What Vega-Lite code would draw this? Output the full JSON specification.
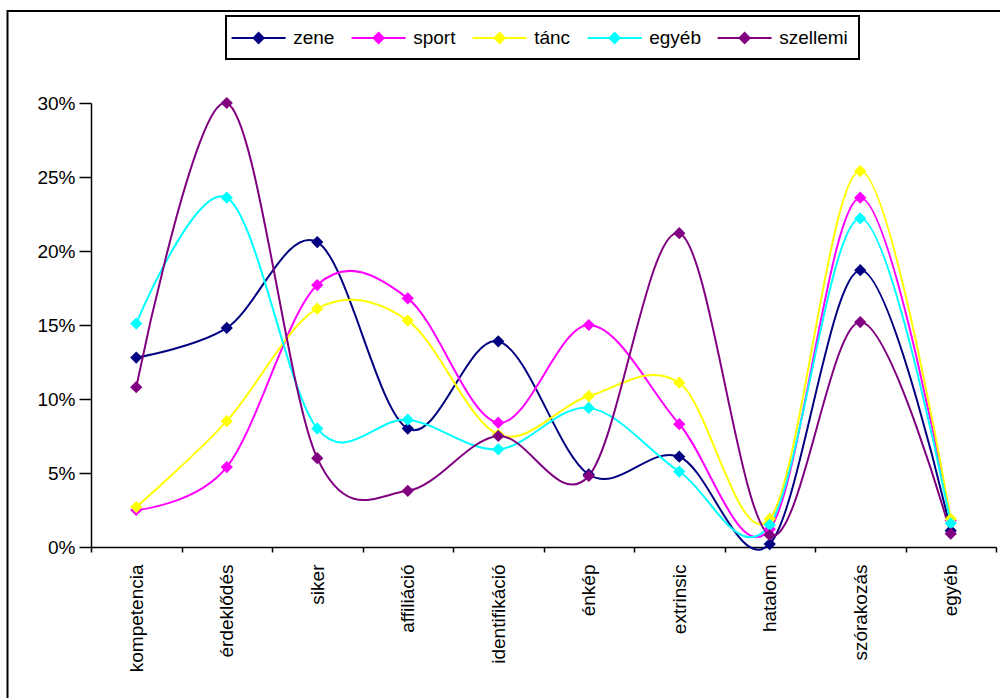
{
  "$schema": "https://vega.github.io/schema/vega-lite/v6.json",
  "autosize": "none",
  "width": 905,
  "height": 444,
  "padding": {"left": 91, "top": 103, "right": 4, "bottom": 151},
  "background": "white",
  "config": {
    "view": {"stroke": null},
    "font": "Liberation Sans",
    "axis": {
      "domainColor": "black",
      "domainWidth": 1.5,
      "tickColor": "black",
      "tickWidth": 1.5,
      "labelColor": "black",
      "labelFont": "Liberation Sans",
      "labelFontSize": 19,
      "grid": false,
      "title": null
    }
  },
  "datasets": {
    "ertekek": [
      {"kategoria": "kompetencia", "csoport": "zene", "arany": 0.128},
      {"kategoria": "érdeklődés", "csoport": "zene", "arany": 0.148},
      {"kategoria": "siker", "csoport": "zene", "arany": 0.206},
      {"kategoria": "affiliáció", "csoport": "zene", "arany": 0.080},
      {"kategoria": "identifikáció", "csoport": "zene", "arany": 0.139},
      {"kategoria": "énkép", "csoport": "zene", "arany": 0.049},
      {"kategoria": "extrinsic", "csoport": "zene", "arany": 0.061},
      {"kategoria": "hatalom", "csoport": "zene", "arany": 0.002},
      {"kategoria": "szórakozás", "csoport": "zene", "arany": 0.187},
      {"kategoria": "egyéb", "csoport": "zene", "arany": 0.011},

      {"kategoria": "kompetencia", "csoport": "sport", "arany": 0.025},
      {"kategoria": "érdeklődés", "csoport": "sport", "arany": 0.054},
      {"kategoria": "siker", "csoport": "sport", "arany": 0.177},
      {"kategoria": "affiliáció", "csoport": "sport", "arany": 0.168},
      {"kategoria": "identifikáció", "csoport": "sport", "arany": 0.084},
      {"kategoria": "énkép", "csoport": "sport", "arany": 0.150},
      {"kategoria": "extrinsic", "csoport": "sport", "arany": 0.083},
      {"kategoria": "hatalom", "csoport": "sport", "arany": 0.012},
      {"kategoria": "szórakozás", "csoport": "sport", "arany": 0.236},
      {"kategoria": "egyéb", "csoport": "sport", "arany": 0.018},

      {"kategoria": "kompetencia", "csoport": "tánc", "arany": 0.027},
      {"kategoria": "érdeklődés", "csoport": "tánc", "arany": 0.085},
      {"kategoria": "siker", "csoport": "tánc", "arany": 0.161},
      {"kategoria": "affiliáció", "csoport": "tánc", "arany": 0.153},
      {"kategoria": "identifikáció", "csoport": "tánc", "arany": 0.076},
      {"kategoria": "énkép", "csoport": "tánc", "arany": 0.102},
      {"kategoria": "extrinsic", "csoport": "tánc", "arany": 0.111},
      {"kategoria": "hatalom", "csoport": "tánc", "arany": 0.019},
      {"kategoria": "szórakozás", "csoport": "tánc", "arany": 0.254},
      {"kategoria": "egyéb", "csoport": "tánc", "arany": 0.019},

      {"kategoria": "kompetencia", "csoport": "egyéb", "arany": 0.151},
      {"kategoria": "érdeklődés", "csoport": "egyéb", "arany": 0.236},
      {"kategoria": "siker", "csoport": "egyéb", "arany": 0.080},
      {"kategoria": "affiliáció", "csoport": "egyéb", "arany": 0.086},
      {"kategoria": "identifikáció", "csoport": "egyéb", "arany": 0.066},
      {"kategoria": "énkép", "csoport": "egyéb", "arany": 0.094},
      {"kategoria": "extrinsic", "csoport": "egyéb", "arany": 0.051},
      {"kategoria": "hatalom", "csoport": "egyéb", "arany": 0.015},
      {"kategoria": "szórakozás", "csoport": "egyéb", "arany": 0.222},
      {"kategoria": "egyéb", "csoport": "egyéb", "arany": 0.016},

      {"kategoria": "kompetencia", "csoport": "szellemi", "arany": 0.108},
      {"kategoria": "érdeklődés", "csoport": "szellemi", "arany": 0.300},
      {"kategoria": "siker", "csoport": "szellemi", "arany": 0.060},
      {"kategoria": "affiliáció", "csoport": "szellemi", "arany": 0.038},
      {"kategoria": "identifikáció", "csoport": "szellemi", "arany": 0.075},
      {"kategoria": "énkép", "csoport": "szellemi", "arany": 0.048},
      {"kategoria": "extrinsic", "csoport": "szellemi", "arany": 0.212},
      {"kategoria": "hatalom", "csoport": "szellemi", "arany": 0.008},
      {"kategoria": "szórakozás", "csoport": "szellemi", "arany": 0.152},
      {"kategoria": "egyéb", "csoport": "szellemi", "arany": 0.009}
    ],
    "keret": [{"elem": "keret"}]
  },
  "layer": [
    {
      "data": {"name": "keret"},
      "mark": {"type": "rect", "fill": null, "stroke": "black", "strokeWidth": 2, "clip": false},
      "encoding": {
        "x": {"value": -83.5},
        "y": {"value": -92},
        "x2": {"value": 1000},
        "y2": {"value": 700}
      }
    },
    {
      "data": {"name": "ertekek"},
      "encoding": {
        "x": {
          "field": "kategoria",
          "type": "nominal",
          "sort": ["kompetencia", "érdeklődés", "siker", "affiliáció", "identifikáció", "énkép", "extrinsic", "hatalom", "szórakozás", "egyéb"],
          "scale": {"type": "band", "paddingInner": 0, "paddingOuter": 0},
          "axis": {
            "labelAngle": -90,
            "tickBand": "extent",
            "tickSize": 5,
            "labelPadding": 12,
            "domainWidth": 1.5
          }
        },
        "y": {
          "field": "arany",
          "type": "quantitative",
          "scale": {"domain": [0, 0.3], "nice": false, "zero": true},
          "axis": {
            "values": [0, 0.05, 0.1, 0.15, 0.2, 0.25, 0.3],
            "format": ".0%",
            "tickSize": 12,
            "labelPadding": 4
          }
        },
        "color": {
          "field": "csoport",
          "type": "nominal",
          "sort": ["zene", "sport", "tánc", "egyéb", "szellemi"],
          "scale": {
            "domain": ["zene", "sport", "tánc", "egyéb", "szellemi"],
            "range": ["#000080", "#FF00FF", "#FFFF00", "#00FFFF", "#800080"]
          },
          "legend": {
            "orient": "none",
            "legendX": 135,
            "legendY": -87,
            "direction": "horizontal",
            "columns": 5,
            "title": null,
            "symbolType": "M-2.7,0H2.7M0,-0.5L0.5,0L0,0.5L-0.5,0Z",
            "symbolSize": 400,
            "symbolStrokeWidth": 2,
            "symbolOffset": 10.6,
            "labelOffset": 23.6,
            "labelFont": "Liberation Sans",
            "labelFontSize": 19,
            "labelColor": "black",
            "columnPadding": 12,
            "padding": 11,
            "strokeColor": "black",
            "encode": {
              "symbols": {
                "update": {
                  "fill": {"scale": "color", "field": "value"},
                  "stroke": {"scale": "color", "field": "value"},
                  "strokeWidth": {"value": 2},
                  "opacity": {"value": 1}
                }
              },
              "legend": {"update": {"strokeWidth": {"value": 2}}}
            }
          }
        }
      },
      "layer": [
        {"mark": {"type": "line", "interpolate": "cardinal", "strokeWidth": 2}},
        {"mark": {"type": "point", "shape": "diamond", "filled": true, "size": 150, "opacity": 1}}
      ]
    }
  ]
}
